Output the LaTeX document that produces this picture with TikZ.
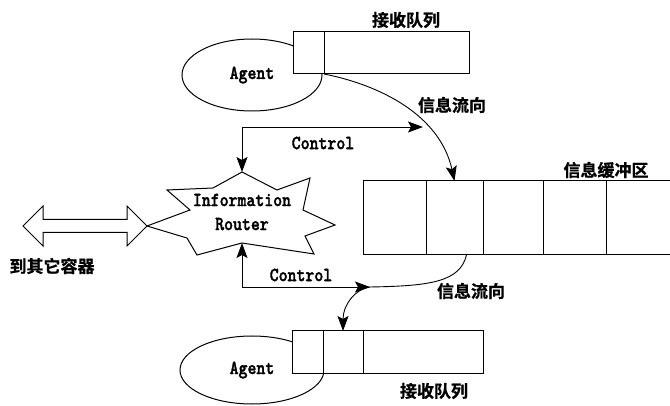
\documentclass[tikz,border=0pt]{standalone}
\usepackage{fontspec}
\newfontfamily\codefont{lmmonolt10-bold}[Extension=.otf, FakeStretch=0.85, FakeBold=1.6]
\newfontfamily\cjk{Noto Sans CJK SC}[BoldFont=* Bold, BoldFeatures={FakeBold=0.8}]
\usetikzlibrary{arrows.meta,shapes.geometric}

\begin{document}
\begin{tikzpicture}[x=1pt, y=-1pt, line width=1pt,
    cell/.style={draw, fill=white, inner sep=0pt, outer sep=0pt, minimum height=42pt},
    agent/.style={draw, ellipse, inner sep=0pt, font=\codefont\fontsize{20}{22}\selectfont},
    lbl/.style={font=\codefont\fontsize{20}{22}\selectfont},
    zh/.style={font=\cjk\bfseries\fontsize{17}{20}\selectfont},
    flow/.style={line width=0.9pt, -{Stealth[length=15pt, width=11pt, inset=3pt]}},
    ctrl/.style={line width=0.9pt, {Stealth[length=15pt, width=11pt, inset=3pt]}-{Stealth[length=15pt, width=11pt, inset=3pt]}}]
        \useasboundingbox (0,0) rectangle (670,406);
        % agents
        \node[agent, minimum width=140pt, minimum height=72pt] (agenta) at (252,75) {Agent};
        \node[agent, minimum width=144pt, minimum height=68pt] (agentb) at (252,370) {Agent};
        % receive queues
        \node[cell, minimum width=31pt] (qa1) at (308.5,53) {};
        \node[cell, minimum width=145pt, anchor=west] (qa2) at (qa1.east) {};
        \node[cell, minimum width=31pt] (qb1) at (307.5,352) {};
        \node[cell, minimum width=40pt, anchor=west] (qb2) at (qb1.east) {};
        \node[cell, minimum width=120pt, anchor=west] (qb3) at (qb2.east) {};
        \node[zh] (qlabela) at (406,20) {接收队列};
        \node[zh] (qlabelb) at (434,391) {接收队列};
        % buffer
        \foreach \i/\l/\r in {1/363/426, 2/426/483, 3/483/543, 4/543/606}
          \node[cell, minimum height=74pt, minimum width={(\r-\l)*1pt}] (buf\i) at ({(\l+\r)/2},218) {};
        \draw (buf4.north east) -- (670,181);
        \draw (buf4.south east) -- (670,255);
        \node[zh] (buflabel) at (606,170) {信息缓冲区};
        % router
        \coordinate (rtop) at (242,172);
        \coordinate (rbot) at (242,243);
        \coordinate (rleft) at (147,226);
        \draw[fill=white] (rtop) -- (277,190) -- (310,178) -- (303,210) -- (335,225) -- (305,236)
          -- (314,254) -- (rbot) -- (197,255) -- (187,238) -- (rleft) -- (190,210) -- (167,190)
          -- (213,188) -- cycle;
        \node[lbl, align=center, font=\codefont\fontsize{20}{24}\selectfont] (router) at (242,212) {Information\\Router};
        % to other containers
        \draw (rleft) -- (127,206) -- (127,219.5) -- (43,219.5) -- (43,206) -- (23,226) -- (43,246)
          -- (43,232.5) -- (127,232.5) -- (127,246) -- cycle;
        \node[zh] (other) at (52,266) {到其它容器};
        % lines
        \coordinate (ctla) at (423,127);
        \coordinate (ctlb) at (370,287);
        \draw[flow] (qa1.south east) .. controls (380,85) and (440,115) .. (buf2.north);
        \draw[ctrl] (rtop) |- (ctla);
        \node[lbl] (ctltexta) at (323,143) {Control};
        \node[zh] (flowa) at (452,105) {信息流向};
        \draw[flow] ([xshift=12pt]buf2.south) .. controls (460,282) and (430,286) .. (ctlb)
          .. controls (355,289) and (343,305) .. (qb2.north);
        \draw[ctrl] (rbot) |- (ctlb);
        \node[lbl] (ctltextb) at (301,275) {Control};
        \node[zh] (flowb) at (471,291) {信息流向};
      \end{tikzpicture}
\end{document}
